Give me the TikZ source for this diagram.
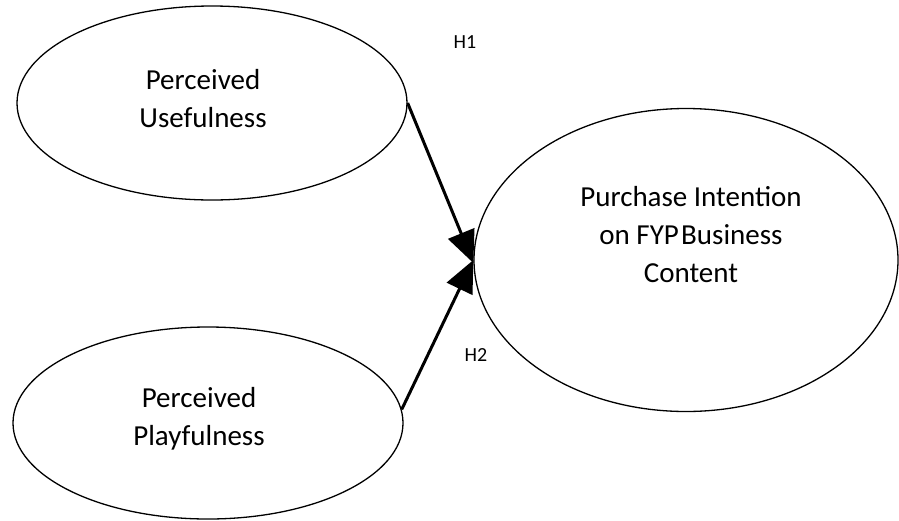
\documentclass[tikz,border=0pt]{standalone}
\usepackage{fontspec}
\setmainfont{Carlito}
\usetikzlibrary{shapes.geometric,arrows.meta}
\begin{document}
\begin{tikzpicture}[x=1pt,y=-1pt,
  oval/.style={draw=black, line width=1.3pt, ellipse, inner sep=0pt},
  ovaltext/.style={align=center, font=\fontsize{29}{38}\selectfont, inner sep=0pt},
  hyp/.style={font=\fontsize{20}{24}\selectfont, inner sep=0pt},
  path/.style={draw=black, line width=3pt, -{Triangle[length=32pt,width=28pt]}}
]
\useasboundingbox (0,0) rectangle (899,520);
\node[oval, minimum width=390pt, minimum height=194pt] (PU) at (212,103) {};
\node[oval, minimum width=390pt, minimum height=192pt] (PP) at (208,423) {};
\node[oval, minimum width=424pt, minimum height=303pt] (PI) at (686,260) {};
\node[ovaltext] (PUt) at (203,99) {Perceived\\Usefulness};
\node[ovaltext] (PPt) at (199,419) {Perceived\\Playfulness};
\node[ovaltext] (PIt) at (691,235) {Purchase Intention\\on FYP\hspace{0.08em}Business\\Content};
\node[hyp] (H1) at (465,42) {H1};
\node[hyp] (H2) at (476,355) {H2};
\draw[path] (PU.east) -- ([yshift=-3pt]PI.west);
\draw[path] (PP.4) -- (PI.west);
\end{tikzpicture}
\end{document}
